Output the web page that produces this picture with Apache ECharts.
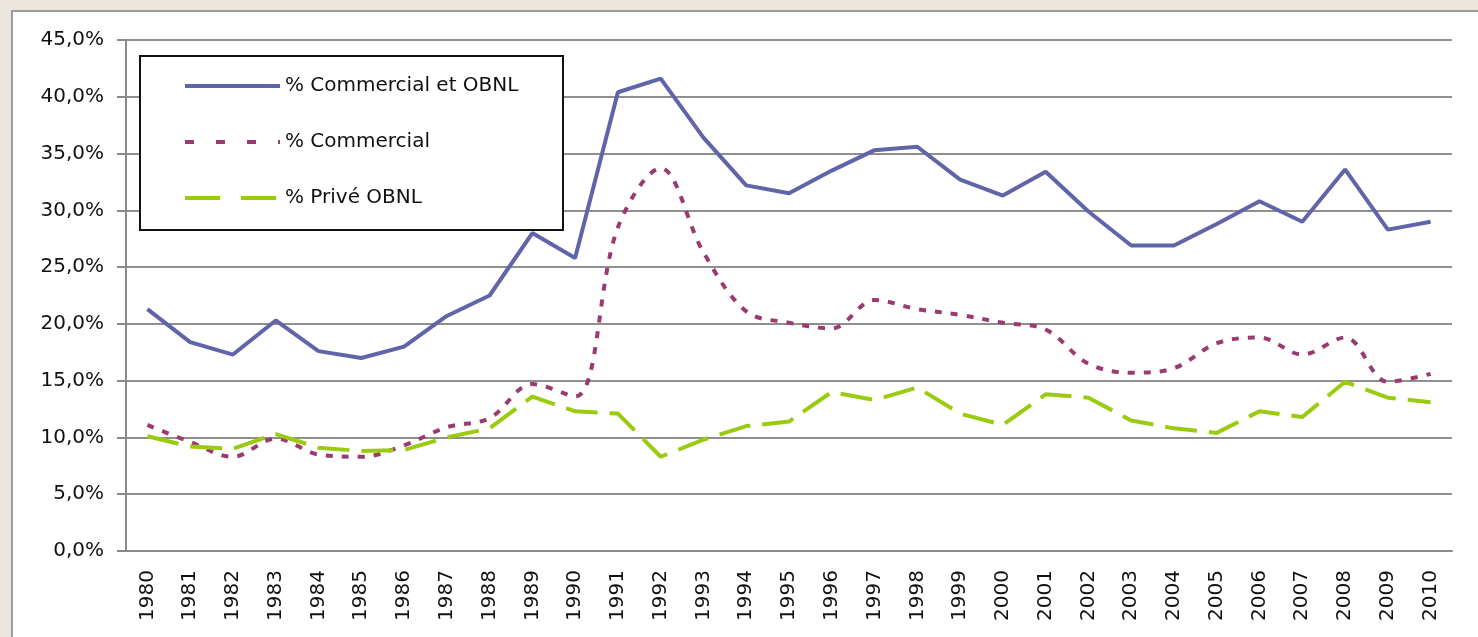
<!DOCTYPE html>
<html>
<head>
<meta charset="utf-8">
<script src="https://cdn.jsdelivr.net/npm/echarts@6/dist/echarts.min.js"></script>
<style>
html,body{margin:0;padding:0;width:1478px;height:637px;overflow:hidden;background:#ebe7dd;}
#frame{position:absolute;left:11px;top:10px;width:1480px;height:640px;background:#fff;border:2px solid #9c9c9c;box-sizing:border-box;}
#chart{position:absolute;left:0;top:0;width:1478px;height:637px;}
</style>
</head>
<body>
<div id="frame"></div>
<div id="chart"></div>
<script>
const years = ['1980','1981','1982','1983','1984','1985','1986','1987','1988','1989','1990','1991','1992','1993','1994','1995','1996','1997','1998','1999','2000','2001','2002','2003','2004','2005','2006','2007','2008','2009','2010'];
const commercialEtObnl = [21.3,18.4,17.3,20.3,17.6,17.0,18.0,20.7,22.5,28.0,25.8,40.4,41.6,36.4,32.2,31.5,33.5,35.3,35.6,32.7,31.3,33.4,29.9,26.9,26.9,28.8,30.8,29.0,33.6,28.3,29.0];
const commercial = [11.1,9.6,8.3,9.9,8.5,8.3,9.3,10.9,11.7,14.7,13.6,28.5,33.7,26.3,21.1,20.1,19.6,22.1,21.3,20.8,20.1,19.5,16.5,15.7,16.1,18.3,18.8,17.3,18.8,14.9,15.6];
const priveObnl = [10.1,9.2,9.0,10.3,9.1,8.8,8.9,10.0,10.8,13.6,12.3,12.1,8.3,9.8,11.0,11.4,14.0,13.3,14.4,12.1,11.1,13.8,13.5,11.5,10.8,10.4,12.3,11.8,14.9,13.5,13.1];
const seriesNames = ['% Commercial et OBNL','% Commercial','% Privé OBNL'];

const FONT = 'DejaVu Sans';
const C1 = '#6064a8', C2 = '#9b3a70', C3 = '#9acb10';
const chart = echarts.init(document.getElementById('chart'));
chart.setOption({
  animation: false,
  backgroundColor: 'transparent',
  textStyle: {fontFamily: FONT},
  grid: {left: 126, top: 40, right: 26, bottom: 86},
  graphic: [{
    type: 'rect', left: 139, top: 55, z: 5,
    shape: {width: 423, height: 174},
    style: {fill: '#fff', stroke: '#111', lineWidth: 2}
  }],
  legend: {
    orient: 'vertical', left: 178, top: 71, z: 10,
    itemWidth: 95, itemHeight: 20, itemGap: 36,
    itemStyle: {opacity: 0, color: 'rgba(0,0,0,0)', borderWidth: 0},
    textStyle: {fontFamily: FONT, fontSize: 20, color: '#111'},
    data: [
      {name: seriesNames[0], lineStyle: {width: 4, color: C1, type: 'solid'}},
      {name: seriesNames[1], lineStyle: {width: 4, color: C2, type: [9, 22]}},
      {name: seriesNames[2], lineStyle: {width: 4, color: C3, type: [35, 21]}}
    ]
  },
  xAxis: {
    type: 'category', data: years, boundaryGap: true,
    axisLine: {lineStyle: {color: '#8a8a8a', width: 2}},
    axisTick: {length: 8, lineStyle: {color: '#8a8a8a', width: 2}},
    axisLabel: {rotate: 90, margin: 19, fontSize: 20, color: '#111', fontFamily: FONT, interval: 0}
  },
  yAxis: {
    type: 'value', min: 0, max: 45, interval: 5,
    axisLine: {show: true, lineStyle: {color: '#8a8a8a', width: 2}},
    axisTick: {show: true, length: 9, lineStyle: {color: '#8a8a8a', width: 2}},
    splitLine: {lineStyle: {color: '#8f8f8f', width: 2}},
    axisLabel: {margin: 22, fontSize: 20, color: '#111', fontFamily: FONT,
      formatter: v => v.toFixed(1).replace('.', ',') + '%'}
  },
  series: [
    {name: seriesNames[0], type: 'line', data: commercialEtObnl, symbol: 'none',
     lineStyle: {color: C1, width: 4}, itemStyle: {color: C1}},
    {name: seriesNames[1], type: 'line', data: commercial, symbol: 'none', smooth: 0.35,
     lineStyle: {color: C2, width: 4, type: [7, 9]}, itemStyle: {color: C2}},
    {name: seriesNames[2], type: 'line', data: priveObnl, symbol: 'none',
     lineStyle: {color: C3, width: 4, type: [32, 12]}, itemStyle: {color: C3}}
  ]
});
</script>
</body>
</html>
